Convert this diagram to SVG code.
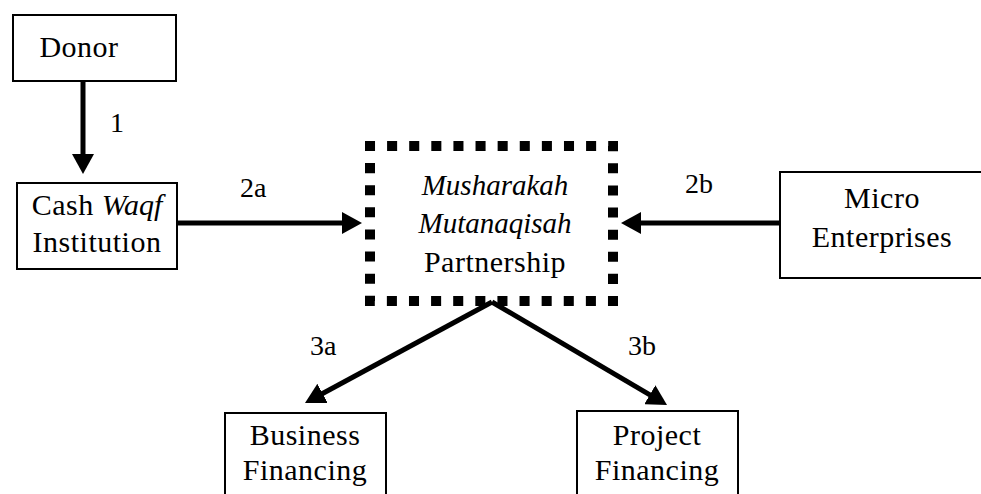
<svg xmlns="http://www.w3.org/2000/svg" width="981" height="494" viewBox="0 0 981 494">
<style>
.box{fill:#fff;stroke:#000;stroke-width:2}
.t{font-family:"Liberation Serif","Times New Roman",serif;font-size:30px;letter-spacing:0.5px;fill:#000;text-anchor:middle}
.lbl{font-family:"Liberation Serif","Times New Roman",serif;font-size:28px;fill:#000;text-anchor:start}
.i{font-style:italic;letter-spacing:0}
.ib{font-size:29px}
.arr{stroke:#000;stroke-width:5;fill:none;marker-end:url(#ah)}
</style>
<defs>
<marker id="ah" viewBox="0 0 20 22" refX="10" refY="11" markerWidth="20" markerHeight="22" orient="auto" markerUnits="userSpaceOnUse">
<path d="M0,0 L20,11 L0,22 Z" fill="#000"/>
</marker>
</defs>
<rect width="981" height="494" fill="#fff"/>
<g id="connectors">
<line class="arr" x1="83" y1="81" x2="83" y2="164"/>
<line class="arr" x1="177" y1="223" x2="352" y2="223"/>
<line class="arr" x1="780" y1="223" x2="631" y2="223"/>
<line class="arr" x1="492" y1="302" x2="313.8" y2="398.2"/>
<line class="arr" x1="492" y1="302" x2="658.4" y2="399.9"/>
</g>
<g id="donor">
<rect class="box" x="13" y="15" width="163" height="66"/>
<text class="t" x="79" y="57">Donor</text>
</g>
<g id="cash-waqf">
<rect class="box" x="17" y="183" width="160" height="86"/>
<text class="t" x="97" y="215">Cash <tspan class="i">Waqf</tspan></text>
<text class="t" x="97" y="252">Institution</text>
</g>
<g id="partnership">
<path d="M370,146 H613 V301 H370 Z" fill="none" stroke="#000" stroke-width="10" pathLength="792" stroke-dasharray="10 12" stroke-dashoffset="5"/>
<text class="t i ib" x="495" y="195">Musharakah</text>
<text class="t i ib" x="495" y="233">Mutanaqisah</text>
<text class="t" x="495" y="272">Partnership</text>
</g>
<g id="micro">
<rect class="box" x="780" y="172" width="210" height="106"/>
<text class="t" x="882" y="208">Micro</text>
<text class="t" x="882" y="247">Enterprises</text>
</g>
<g id="business">
<rect class="box" x="225" y="413" width="161" height="100"/>
<text class="t" x="305" y="445">Business</text>
<text class="t" x="305" y="480">Financing</text>
</g>
<g id="project">
<rect class="box" x="577" y="411" width="161" height="100"/>
<text class="t" x="657" y="445">Project</text>
<text class="t" x="657" y="480">Financing</text>
</g>
<g id="labels">
<text class="lbl" x="110" y="132">1</text>
<text class="lbl" x="240" y="197">2a</text>
<text class="lbl" x="685" y="193">2b</text>
<text class="lbl" x="310" y="355">3a</text>
<text class="lbl" x="628" y="355">3b</text>
</g>
</svg>
